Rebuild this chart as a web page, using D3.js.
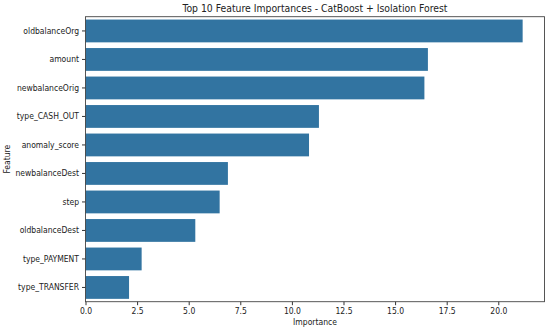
<!DOCTYPE html>
<html><head><meta charset="utf-8">
<script src="https://cdn.jsdelivr.net/npm/d3@7"></script>
<style>body{margin:0;background:#fff}svg{display:block}text{font-family:"DejaVu Sans Condensed","DejaVu Sans",sans-serif;fill:#222}</style>
</head><body><svg id="c" width="550" height="329"></svg>
<script>
const features = ["oldbalanceOrg","amount","newbalanceOrig","type_CASH_OUT","anomaly_score","newbalanceDest","step","oldbalanceDest","type_PAYMENT","type_TRANSFER"];
const importances = [21.18,16.59,16.42,11.31,10.83,6.90,6.50,5.32,2.72,2.11];
const xTicks = [0,2.5,5,7.5,10,12.5,15,17.5,20];
const title = "Top 10 Feature Importances - CatBoost + Isolation Forest";

const svg = d3.select("#c");
const m = {left:85.5, right:544.5, top:16.7, bottom:301.7};
const x = d3.scaleLinear().domain([0, d3.max(importances)*1.05]).range([m.left, m.right]);
const y = d3.scaleBand().domain(features).range([m.top, m.bottom]).paddingInner(0.2).paddingOuter(0.1);

svg.selectAll("rect.bar").data(features).enter().append("rect")
  .attr("class","bar")
  .attr("x", x(0))
  .attr("y", d => y(d))
  .attr("width", (d,i) => x(importances[i]) - x(0))
  .attr("height", y.bandwidth())
  .attr("fill", "#3274a1");

const xa = svg.append("g").attr("transform",`translate(0,${m.bottom})`)
  .call(d3.axisBottom(x).tickValues(xTicks).tickFormat(d3.format(".1f")).tickSize(3.5).tickPadding(3));
const ya = svg.append("g").attr("transform",`translate(${m.left},0)`)
  .call(d3.axisLeft(y).tickSize(3.5).tickPadding(3));
[xa,ya].forEach(a=>{a.select(".domain").remove();a.selectAll("text").style("font-size","8.5px").attr("fill","#222");a.selectAll("line").attr("stroke","#333");});

svg.append("rect").attr("x",m.left).attr("y",m.top).attr("width",m.right-m.left).attr("height",m.bottom-m.top)
  .attr("fill","none").attr("stroke","#444").attr("stroke-width",0.9);

svg.append("text").attr("x",(m.left+m.right)/2).attr("y",11.5).attr("text-anchor","middle").style("font-size","10px")
  .attr("textLength",265).attr("lengthAdjust","spacingAndGlyphs").text(title);
svg.append("text").attr("x",315).attr("y",325).attr("text-anchor","middle").style("font-size","8.5px").text("Importance");
svg.append("text").attr("transform",`translate(10,${(m.top+m.bottom)/2}) rotate(-90)`).attr("text-anchor","middle").style("font-size","8.5px").text("Feature");
</script></body></html>
